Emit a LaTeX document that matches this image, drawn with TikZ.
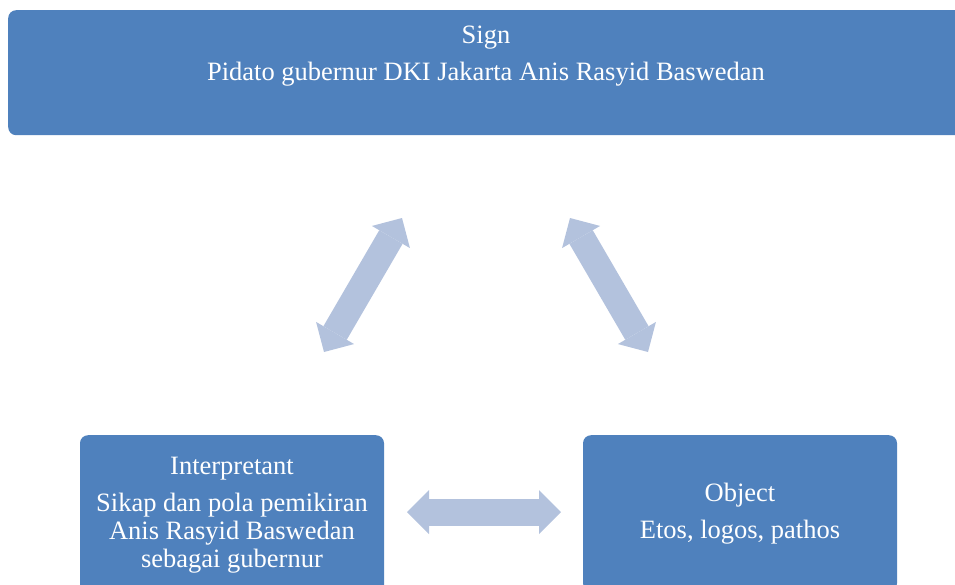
\documentclass[tikz,border=0pt]{standalone}
\usepackage{fontspec}
\setmainfont{Liberation Serif}
\usetikzlibrary{arrows.meta}
\usetikzlibrary{positioning}
\definecolor{boxblue}{HTML}{4F81BD}
\definecolor{arrowblue}{HTML}{B3C2DD}
\tikzset{box/.style = {fill = boxblue, rounded corners = 8pt, inner sep = 0, text = white, align = center, font = \fontsize{26.5}{28}\selectfont}}
\tikzset{boxtext/.style = {inner sep = 0, text = white, align = center, font = \fontsize{26.5}{28}\selectfont}}
\tikzset{dblarrow/.style = {draw = arrowblue, line width = 27pt, {Triangle[length = 22pt, width = 44pt, line width = 0pt]}-{Triangle[length = 22pt, width = 44pt, line width = 0pt]}}}

\begin{document}
\begin{tikzpicture}[x = 1pt, y = -1pt]
      \useasboundingbox (0, 0) rectangle (955, 584);
      \clip (0, 0) rectangle (955, 584);
      \node [box, minimum width = 956pt, minimum height = 125pt, anchor = north west] (sign) at (8, 10) {};
      \node [boxtext, anchor = north] (signtext) at (486, 26) {Sign\\[9pt]Pidato gubernur DKI Jakarta Anis Rasyid Baswedan};
      \node [box, minimum width = 304pt, minimum height = 160pt, anchor = north] (interp) at (232, 435)
        {Interpretant\\[9pt]Sikap dan pola pemikiran\\Anis Rasyid Baswedan\\sebagai gubernur};
      \node [box, minimum width = 314pt, minimum height = 156pt, anchor = north] (object) at (740, 435)
        {Object\\[9pt]Etos, logos, pathos};
      \coordinate (li) at (324, 352);
      \coordinate (ls) at (402, 218);
      \coordinate (rs) at (570, 218);
      \coordinate (ro) at (648, 352);
      \coordinate (hi) at (407, 512);
      \coordinate (ho) at (561, 512);
      \draw [dblarrow] (li) -- (ls);
      \draw [dblarrow] (rs) -- (ro);
      \draw [dblarrow] (hi) -- (ho);
    \end{tikzpicture}
\end{document}
